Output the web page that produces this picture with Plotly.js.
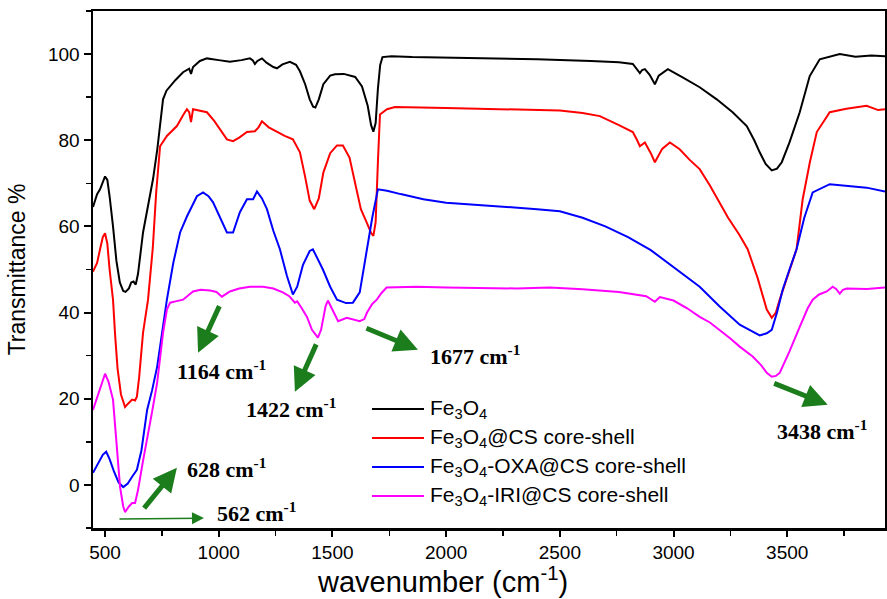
<!DOCTYPE html>
<html>
<head>
<meta charset="utf-8">
<script src="https://cdn.plot.ly/plotly-3.0.1.min.js"></script>
<style>html,body{margin:0;padding:0;background:#fff;}#chart{width:887px;height:599px;}</style>
</head>
<body>
<div id="chart"></div>
<script>
// ---- Data ----
const seriesNames = [
  "Fe<sub>3</sub>O<sub>4</sub>",
  "Fe<sub>3</sub>O<sub>4</sub>@CS core-shell",
  "Fe<sub>3</sub>O<sub>4</sub>-OXA@CS core-shell",
  "Fe<sub>3</sub>O<sub>4</sub>-IRI@CS core-shell"
];

const wnFe3O4 = [447,465,478,490,500,510,520,535,550,565,580,590,605,615,625,635,645,667,690,711,730,745,755,770,786,810,843,870,878,887,917,948,1000,1049,1100,1137,1150,1159,1170,1190,1210,1240,1256,1280,1313,1340,1357,1380,1400,1415,1425,1440,1460,1490,1511,1550,1600,1630,1655,1670,1680,1690,1700,1710,1720,1760,1850,2000,2200,2400,2637,2760,2821,2840,2852,2862,2874,2895,2918,2935,2975,3040,3115,3190,3260,3322,3355,3379,3405,3432,3455,3476,3510,3555,3599,3643,3700,3731,3800,3870,3930];
const tFe3O4 = [64.5,67.5,68.6,70.5,71.6,70.8,67,60,52,47,45,44.8,45.6,47,47.2,46.5,49,58.6,65,71,78,85,89.5,91.5,92.6,94,95.8,96.6,95.4,97,98.4,99,98.6,98.2,98.6,99,98.5,97.7,98.4,99,98,97,96.7,97.6,98.2,97.5,96,93,89.5,87.8,87.6,89.5,93,95,95.3,95.4,94.7,92.5,88,83.5,82,84,92,97.5,99.3,99.5,99.3,99.2,99,98.8,98.4,98.1,97.7,96.5,95.6,96.3,96.5,95.2,93,95,96.5,94.6,92.3,89.5,86.5,83.3,80,77.2,74.5,73,73.4,74.9,79.5,86.5,94.9,98.8,99.5,100,99.4,99.7,99.5];

const wnCS = [447,465,478,490,500,510,520,535,544,555,570,588,600,619,632,640,650,667,689,710,725,742,772,816,845,860,870,878,887,920,948,980,1005,1036,1063,1090,1124,1159,1175,1190,1220,1256,1290,1326,1357,1380,1400,1420,1440,1460,1490,1520,1546,1575,1600,1625,1650,1670,1680,1690,1700,1709,1740,1775,2000,2300,2500,2600,2676,2760,2821,2840,2852,2874,2900,2918,2950,2984,3027,3070,3115,3160,3194,3240,3290,3326,3370,3410,3432,3450,3467,3500,3541,3568,3600,3630,3687,3760,3849,3900,3930];
const tCS = [49.5,51.5,54.7,57.5,58.4,56,50,43,35,27,21,18.1,18.8,19.8,19.6,20.5,25,35.3,43,55,68,78.6,81,83.3,86,87.2,86.5,84.2,87.2,86.8,86.5,84.5,82.6,80.2,79.8,80.6,81.9,82.1,83,84.4,83,81.9,81,80.2,77.2,71.5,66,64,66.5,72.5,77,78.8,78.8,76,70,64,61,58.5,57.8,61,75,86,87.2,87.7,87.5,87.2,86.9,86.3,85.6,83.5,81.9,80,78.6,79.5,77,74.9,78,79.5,77.9,75.5,73.3,69.5,66.3,62,58,54.7,48,40.7,38.8,40,43,48,54.7,66.3,75,81.9,86.5,87.3,88,87,87.2];

const wnOXA = [447,470,490,505,520,540,560,580,600,619,640,660,685,707,729,750,772,800,830,860,880,904,931,955,975,1005,1036,1063,1093,1124,1151,1168,1190,1212,1240,1269,1300,1326,1345,1370,1400,1414,1435,1458,1490,1520,1560,1590,1620,1652,1675,1700,1740,1800,1900,2000,2200,2400,2500,2600,2700,2800,2900,3000,3115,3203,3291,3340,3379,3410,3432,3455,3480,3510,3541,3575,3612,3687,3760,3849,3930];
const tOXA = [2.8,5,7,7.7,6,3,0.5,-0.5,0.3,1.9,3.5,8,17.4,22,27.4,35,43,51.5,58.6,62.3,64.5,67,67.9,67,65.6,62.3,58.6,58.6,63.3,66.3,66.3,68.1,66.5,64,59,54.7,48.5,44.2,46,51,54.3,54.7,52.5,50,46,43,42.2,42.3,44.7,54.7,62,68.6,68.3,67.5,66.3,65.5,64.8,64,63.5,62,60,57.5,54.5,50.5,46,41.4,37.2,35.8,34.7,35.2,36,40,45.3,50,54.7,62,67.9,69.8,69.4,69,68.1];

const wnIRI = [447,470,490,500,515,535,550,566,580,588,605,619,632,645,665,685,707,729,755,772,786,810,843,887,920,962,990,1014,1030,1049,1090,1137,1195,1240,1282,1310,1335,1345,1365,1388,1410,1436,1450,1458,1470,1480,1492,1503,1525,1563,1595,1620,1640,1652,1675,1695,1715,1738,1871,2000,2310,2456,2600,2760,2880,2918,2940,3000,3060,3115,3160,3203,3250,3291,3348,3385,3410,3432,3450,3467,3510,3555,3590,3612,3640,3674,3700,3715,3731,3745,3762,3850,3930];
const tIRI = [17.4,21,24.5,25.8,24,19.8,10,-0.5,-5,-6.3,-5,-4.2,-4.2,-1.2,5,10.5,17,23.7,35.3,40.7,42.3,42.6,43,44.9,45.3,45.1,44.8,43.7,44.3,44.9,45.6,46,46,45.6,44.7,43.8,42.3,42.6,41,39,36,34.2,36,38.4,41.5,42.8,41.5,40,38,38.8,38.3,38,38.5,40,42,43,44.5,45.8,46,45.8,45.6,45.8,45.4,44.8,43.8,42.5,43.6,42.8,41,39,37.7,36,34,32.1,29.8,27.8,26,25.1,25.3,26,31,36.7,41,43,44.2,44.9,46,45.5,44.4,45.3,45.6,45.5,45.8];

const seriesColors = ["#000000", "#ff0000", "#0000ff", "#ff00ff"];

// Peak annotations: label, arrow head (wavenumber, T), tail offset in px, label position
const peakLabels = ["1164", "1422", "1677", "3438", "628", "562"];
const headWn = [909, 1335, 1876, 3678, 816, 935];
const headT = [30.7, 21.6, 31.4, 18.6, 4.0, -7.7];
const tailDx = [22, 22, -53, -55, -34, -86];
const tailDy = [-48, -49, -22, -22, 42, 1];
const labelWn = [1010, 1318, 2126, 3652, 1032, 1164];
const labelT = [26.7, 17.9, 30.2, 12.8, 4.0, -6.3];

const xTitle = "wavenumber (cm<sup>-1</sup>)";
const yTitle = "Transmittance %";

// ---- Plot geometry (pixels) ----
const W = 887, H = 599;
const M = {l: 93, r: 2, t: 11, b: 71};
const plotW = W - M.l - M.r, plotH = H - M.t - M.b;
const px2paperX = px => (px - M.l) / plotW;
const py2paperY = py => 1 - (py - M.t) / plotH;

// ---- Build traces ----
const xs = [wnFe3O4, wnCS, wnOXA, wnIRI];
const ys = [tFe3O4, tCS, tOXA, tIRI];
const traces = xs.map((x, i) => ({
  x: x, y: ys[i], type: "scatter", mode: "lines",
  name: seriesNames[i], showlegend: false,
  line: {color: seriesColors[i], width: 2}
}));

const green = "#1b7d1b";
const annotations = [];
const shapes = [];
peakLabels.forEach((lab, i) => {
  const thin = (lab === "562");
  annotations.push({
    x: headWn[i], y: headT[i], xref: "x", yref: "y",
    ax: tailDx[i], ay: tailDy[i], text: "",
    showarrow: true, arrowcolor: green,
    arrowhead: 2, arrowsize: thin ? 1.6 : 0.95, arrowwidth: thin ? 1.5 : 5
  });
  annotations.push({
    x: labelWn[i], y: labelT[i], xref: "x", yref: "y",
    text: "<b>" + lab + " cm<sup>-1</sup></b>", showarrow: false,
    font: {family: "Liberation Serif, Times New Roman, serif", size: 22, color: "#000"},
    xanchor: "center", yanchor: "middle"
  });
});

// Legend (drawn as line samples + labels, placed inside the plot)
const legendRowY = [409, 438, 467, 496];
seriesNames.forEach((nm, i) => {
  const yp = py2paperY(legendRowY[i]);
  shapes.push({type: "line", xref: "paper", yref: "paper",
    x0: px2paperX(372), x1: px2paperX(424), y0: yp, y1: yp,
    line: {color: seriesColors[i], width: 2}});
  annotations.push({x: px2paperX(428), y: yp, xref: "paper", yref: "paper",
    text: nm, showarrow: false, xanchor: "left", yanchor: "middle",
    font: {family: "Liberation Sans, Arial, sans-serif", size: 21, color: "#000"}});
});

// X axis title
annotations.push({x: px2paperX(442), y: py2paperY(580), xref: "paper", yref: "paper",
  text: xTitle, showarrow: false, xanchor: "center", yanchor: "middle",
  font: {family: "Liberation Sans, Arial, sans-serif", size: 29, color: "#000"}});

const axisFont = {family: "Liberation Sans, Arial, sans-serif", size: 19, color: "#000"};

const layout = {
  width: W, height: H,
  margin: M,
  paper_bgcolor: "#fff", plot_bgcolor: "#fff",
  showlegend: false,
  xaxis: {
    range: [447, 3930], tick0: 500, dtick: 500,
    ticks: "outside", ticklen: 6, tickwidth: 2, tickcolor: "#000",
    minor: {dtick: 250, tick0: 250, ticks: "outside", ticklen: 5, tickwidth: 1.5, tickcolor: "#000", showgrid: false},
    showline: true, linewidth: 2.5, linecolor: "#000", mirror: true,
    showgrid: false, zeroline: false, tickfont: axisFont
  },
  yaxis: {
    range: [-10, 110], tick0: 0, dtick: 20,
    ticks: "outside", ticklen: 7, tickwidth: 2, tickcolor: "#000",
    minor: {dtick: 10, tick0: 0, ticks: "outside", ticklen: 5, tickwidth: 1.5, tickcolor: "#000", showgrid: false},
    showline: true, linewidth: 2.5, linecolor: "#000", mirror: true,
    showgrid: false, zeroline: false, tickfont: axisFont,
    title: {text: yTitle, font: {family: "Liberation Sans, Arial, sans-serif", size: 23, color: "#000"}, standoff: 16}
  },
  shapes: shapes,
  annotations: annotations
};

Plotly.newPlot("chart", traces, layout, {displayModeBar: false, staticPlot: true});
</script>
</body>
</html>
